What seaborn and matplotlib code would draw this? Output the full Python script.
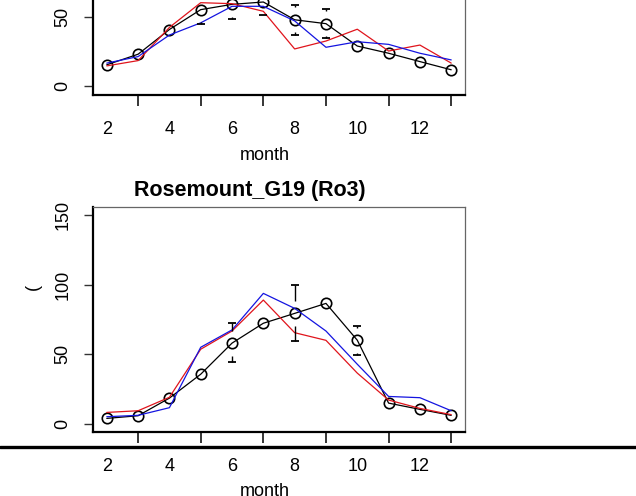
import numpy as np
import pandas as pd
import seaborn as sns
import matplotlib
matplotlib.use("Agg")
import matplotlib.pyplot as plt
from matplotlib.lines import Line2D

# month positions and the (shifted) tick labels
months = np.arange(1, 13)
tick_months = [2, 4, 6, 8, 10, 12]
label_months = [1, 3, 5, 7, 9, 11]
tick_labels = ["2", "4", "6", "8", "10", "12"]

# upper panel (only the lower part is visible)
top_obs = [15.4, 23.0, 40.8, 55.1, 58.9, 60.6, 47.8, 45.0, 28.9, 23.7, 17.7, 11.8]
top_red = [14.6, 18.4, 42.3, 60.1, 59.4, 53.9, 26.8, 32.5, 41.0, 25.3, 29.6, 16.6]
top_blue = [16.6, 21.3, 36.8, 45.6, 57.5, 57.5, 47.0, 28.0, 32.0, 30.1, 23.7, 18.9]
top_err_month = [4, 5, 6, 7, 8]
top_err_low = [45.0, 48.2, 51.6, 36.8, 34.4]
top_err_high = [65.2, 69.6, 69.6, 58.7, 55.8]

# lower panel: Rosemount_G19 (Ro3)
bot_obs = [3.8, 5.7, 18.4, 35.6, 58.0, 72.3, 79.4, 86.6, 60.1, 14.8, 10.3, 6.0]
bot_red = [8.1, 9.3, 19.0, 53.6, 66.7, 89.0, 65.5, 60.0, 36.4, 17.0, 11.0, 6.5]
bot_blue = [5.0, 6.0, 11.5, 55.0, 67.5, 93.8, 83.0, 66.7, 42.8, 19.6, 18.7, 9.3]
bot_err_month = [5, 7, 9]
bot_err_low = [44.5, 59.6, 49.5]
bot_err_high = [72.4, 99.6, 70.3]

title = "Rosemount_G19 (Ro3)"

sns.set_style("ticks")
plt.rcParams["font.family"] = ["Liberation Sans", "DejaVu Sans"]
plt.rcParams["text.color"] = "black"
plt.rcParams["xtick.color"] = "black"
plt.rcParams["ytick.color"] = "black"
FS = 13

W, H = 636, 496
fig = plt.figure(figsize=(W / 100, H / 100), dpi=100)


def panel(box, obs, red, blue, emonth, elow, ehigh):
    ax = fig.add_axes(box)
    df = pd.DataFrame({"month": months, "obs": obs, "red": red, "blue": blue})
    sns.lineplot(data=df, x="month", y="obs", color="black", lw=0.9,
                 marker="o", markersize=7.5, markerfacecolor="none",
                 markeredgecolor="black", markeredgewidth=1.2, ax=ax, zorder=3)
    sns.lineplot(data=df, x="month", y="red", color="#e0141c", lw=0.9, ax=ax, zorder=4)
    sns.lineplot(data=df, x="month", y="blue", color="#1414e0", lw=0.9, ax=ax, zorder=5)

    # error bars: caps plus short stems
    mean = np.array([obs[m - 1] for m in emonth])
    lo, hi = np.array(elow), np.array(ehigh)
    em = np.array(emonth, dtype=float)
    gap = 9
    ax.hlines(np.r_[lo, hi], np.r_[em, em] - 0.13, np.r_[em, em] + 0.13,
              color="black", lw=1.3, zorder=6)
    ax.vlines(em, lo, np.maximum(lo, mean - gap), color="black", lw=1.0, zorder=6)
    ax.vlines(em, np.minimum(hi, mean + gap), hi, color="black", lw=1.0, zorder=6)

    ax.set_xlim(0.56, 12.44)
    ax.set_ylim(-6, 156)
    ax.set_xlabel("")
    ax.set_ylabel("")
    ax.set_xticks(tick_months, [""] * len(tick_months))
    ax.set_xticks(label_months, tick_labels, minor=True)
    ax.set_yticks([0, 50, 100, 150])
    ax.tick_params(axis="x", which="major", bottom=True, length=8, width=1.1,
                   color="black")
    ax.tick_params(axis="x", which="minor", bottom=False, length=0, pad=19,
                   labelsize=FS, labelcolor="black")
    ax.tick_params(axis="y", left=True, length=6.5, width=1.0, color="#333333",
                   pad=9, labelsize=FS, labelrotation=90, labelcolor="black")
    for t in ax.get_yticklabels():
        t.set_va("center")
    for s in ["left", "bottom"]:
        ax.spines[s].set_linewidth(1.6)
        ax.spines[s].set_color("black")
    for s in ["top", "right"]:
        ax.spines[s].set_visible(True)
        ax.spines[s].set_linewidth(0.9)
        ax.spines[s].set_color("#666666")
    return ax


axw = (465 - 93) / W
axh = 225 / H
panel([93 / W, (H - 94.5) / H, axw, axh], top_obs, top_red, top_blue,
      top_err_month, top_err_low, top_err_high)
panel([93 / W, (H - 432) / H, axw, axh], bot_obs, bot_red, bot_blue,
      bot_err_month, bot_err_low, bot_err_high)

fig.text(265 / W, 1 - 155 / H, "month", ha="center", va="center", fontsize=FS)
fig.text(265 / W, 1 - 492 / H, "month", ha="center", va="center", fontsize=FS)
fig.text(250 / W, 1 - 191 / H, title, ha="center", va="center",
         fontsize=15.5, fontweight="bold")
fig.text(33 / W, 1 - 287 / H, "(", ha="center", va="center", rotation=90, fontsize=FS)

fig.add_artist(Line2D([0, 1], [1 - 447 / H, 1 - 447 / H], color="black",
                      lw=2.4, transform=fig.transFigure))

fig.savefig("out.png", dpi=100)
